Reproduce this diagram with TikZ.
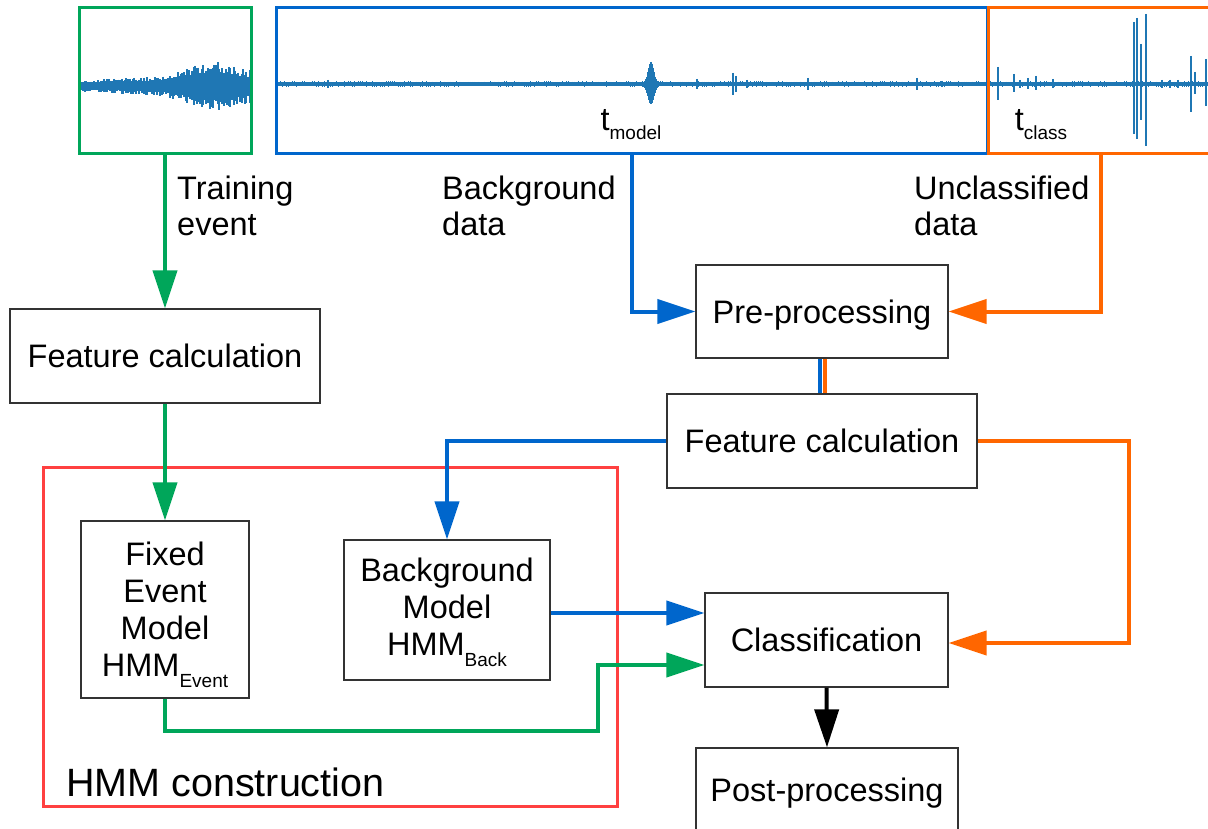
\documentclass[tikz,border=0pt]{standalone}
\usepackage{fontspec}
\setmainfont{Liberation Sans}
\usetikzlibrary{arrows.meta,calc}
\definecolor{cgreen}{HTML}{00A65A}
\definecolor{cblue}{HTML}{0066CC}
\definecolor{corange}{HTML}{FF6600}
\definecolor{cred}{HTML}{FF4040}
\definecolor{cwave}{HTML}{1F77B4}
\definecolor{cbox}{HTML}{333333}
\begin{document}
\begin{tikzpicture}[x=1pt,y=-1pt,
  box/.style={draw=cbox, line width=1.3pt, inner sep=0pt, align=center, font=\fontsize{32.5}{37}\selectfont},
  onebox/.style={box, text height=23.3pt, text depth=0pt},
  frame/.style={line width=3pt, inner sep=0pt},
  lbl/.style={anchor=west, align=left, inner sep=0pt, font=\fontsize{32.5}{36}\selectfont},
  conn/.style={line width=4pt},
  tip/.style={-{Triangle[length=38pt,width=24pt]}},
  wave/.style={draw=cwave, line width=2pt}]
\useasboundingbox (0,0) rectangle (1208,829);
\clip (0,0) rectangle (1208,829);
\fill[white] (0,0) rectangle (1208,829);
\pgfmathsetseed{7}
% ---- event waveform (green frame)
\draw[cwave, line width=8pt] (80,86) -- (251,86);
\foreach \x in {80,81.6,...,251}{
  \pgfmathsetmacro\env{5+0.05*(\x-80)+11*exp(-((\x-210)/30)^2)}
  \pgfmathsetmacro\au{\env*(0.6+0.5*rnd)}
  \pgfmathsetmacro\ad{\env*(0.6+0.5*rnd)}
  \draw[wave] (\x,86-\au) -- (\x,86+\ad);
}
% ---- background waveform (blue frame)
\draw[cwave, line width=3.8pt] (277,84) -- (986,84);
\foreach \x in {278,280,...,986}{
  \pgfmathsetmacro\au{1.5+1.5*rnd}
  \pgfmathsetmacro\ad{1.5+1.5*rnd}
  \draw[cwave, line width=1pt] (\x,84-\au) -- (\x,84+\ad);
}
\foreach \x in {641,642,...,661}{
  \pgfmathsetmacro\au{2+20*exp(-((\x-651)/3.5)^2)}
  \pgfmathsetmacro\ad{2+18*exp(-((\x-651)/4)^2)}
  \draw[cwave, line width=1.4pt] (\x,84-\au) -- (\x,84+\ad);
}
\foreach \x/\a in {328/4,697/5,733/11,736/8,747/4,808/6,917/6,942/3}{
  \draw[wave] (\x,84-\a) -- (\x,84+\a);
}
% ---- unclassified waveform (orange frame)
\draw[cwave, line width=3.8pt] (989,84) -- (1208,84);
\foreach \x in {990,992,...,1208}{
  \pgfmathsetmacro\au{1.5+1.5*rnd}
  \pgfmathsetmacro\ad{1.5+1.5*rnd}
  \draw[cwave, line width=1pt] (\x,84-\au) -- (\x,84+\ad);
}
\foreach \x/\u/\d in {998/17/16,1014/10/8,1020/4/4,1028/6/5,1036/8/6,1053/5/4,
  1134/62/50,1137/66/55,1141/40/36,1146/70/62,1162/4/4,1170/4/4,1178/4/4,
  1191/28/28,1195/12/10,1206/25/22}{
  \draw[wave] (\x,84-\u) -- (\x,84+\d);
}
% ---- top frames
\node[frame, draw=cgreen, minimum width=172, minimum height=146] (gbox) at (165,81) {};
\node[frame, draw=cblue, minimum width=711, minimum height=146] (bbox) at (631.5,81) {};
\node[frame, draw=corange, minimum width=252, minimum height=146] (obox) at (1114,81) {};
\node[inner sep=0pt, font=\fontsize{32.5}{36}\selectfont] (tmodel) at (631,120)
  {t\raisebox{-9pt}[0pt][0pt]{\fontsize{19}{19}\selectfont model}};
\node[inner sep=0pt, font=\fontsize{32.5}{36}\selectfont] (tclass) at (1041,120)
  {t\raisebox{-9pt}[0pt][0pt]{\fontsize{19}{19}\selectfont class}};
% ---- labels
\node[lbl] (ltrain) at (177,206) {Training\\event};
\node[lbl] (lback) at (442,206) {Background\\data};
\node[lbl] (lunc) at (914,206) {Unclassified\\data};
% ---- boxes
\node[onebox, minimum width=310, minimum height=94] (feat1) at (165,356) {Feature calculation};
\node[onebox, minimum width=252, minimum height=93] (pre) at (822,311.5) {Pre-processing};
\node[onebox, minimum width=310, minimum height=94] (feat2) at (822,441) {Feature calculation};
\node[frame, draw=cred, minimum width=574, minimum height=339] (hmm) at (330,636.5) {};
\node[anchor=west, inner sep=0pt, font=\fontsize{39.5}{44}\selectfont] (hmmlbl) at (66,782) {HMM construction};
\node[box, minimum width=168, minimum height=177] (fixed) at (165,609.5)
  {Fixed\\Event\\Model\\HMM\raisebox{-11pt}[0pt][0pt]{\fontsize{19}{19}\selectfont Event}};
\node[box, minimum width=206, minimum height=140] (bg) at (447,610)
  {Background\\Model\\HMM\raisebox{-11pt}[0pt][0pt]{\fontsize{19}{19}\selectfont Back}\\[-31pt]\mbox{}};
\node[onebox, minimum width=243, minimum height=94] (cls) at (826.5,640) {Classification};
\node[onebox, minimum width=262, minimum height=84] (post) at (827,790) {Post-processing};
% ---- connectors
\coordinate (odrop) at (1101,154);
\coordinate (oturn) at (1129,441);
\coordinate (gturn) at (598,731);
\coordinate (gin) at (598,665);
\draw[conn, cgreen, tip] (gbox.south) -- (feat1.north);
\draw[conn, cgreen, tip] (feat1.south) -- (fixed.north);
\draw[conn, cblue, tip] (bbox.south) |- (pre.west);
\draw[conn, corange, tip] (odrop) |- (pre.east);
\draw[conn, cblue] ([xshift=-2.5pt]pre.south) -- ([xshift=-2.5pt]feat2.north);
\draw[conn, corange] ([xshift=2.5pt]pre.south) -- ([xshift=2.5pt]feat2.north);
\draw[conn, cblue, tip] (feat2.west) -| (bg.north);
\draw[conn, corange, tip] (feat2.east) -- (oturn) |- ([yshift=-3pt]cls.east);
\draw[conn, cblue, tip] ([yshift=-3pt]bg.east) -- ([yshift=-3pt]bg.east -| cls.west);
\draw[conn, cgreen, tip] (fixed.south) |- (gturn) -- (gin) -- (gin -| cls.west);
\draw[conn, black, tip] (cls.south) -- (post.north);
\end{tikzpicture}
\end{document}
